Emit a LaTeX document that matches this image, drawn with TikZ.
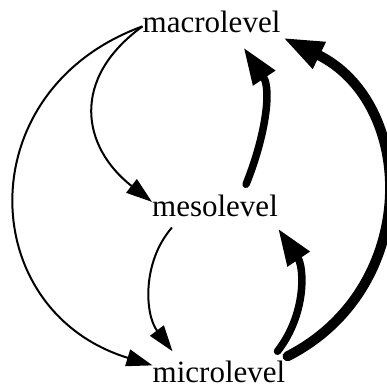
\documentclass[tikz,border=0pt]{standalone}
\usepackage{fontspec}
\setmainfont{Liberation Serif}
\usetikzlibrary{arrows.meta}
\begin{document}
\begin{tikzpicture}[x=1pt, y=1pt, >={Triangle[length=26pt,width=17pt]},
    level/.style={inner sep=0pt, anchor=base, font=\fontsize{31}{36}\selectfont},
    weak/.style={->, line width=2pt},
    strong/.style={line width=7.5pt, line cap=round, -{Triangle[length=37pt,width=25pt]}},
    stronger/.style={line width=10pt, line cap=round, -{Triangle[length=41pt,width=27pt]}}]
\useasboundingbox (0,0) rectangle (387,390);
\node[level] (macro) at (211.5,357) {macrolevel};
\node[level] (meso) at (215,173) {mesolevel};
\node[level] (micro) at (219,7) {microlevel};
% top-down
\draw[weak] ([yshift=-4]macro.west) to[out=216,in=142,looseness=1.3] ([yshift=4.5]meso.west);
\draw[weak] ([yshift=-4]macro.west) to[out=200,in=163,looseness=1.4] ([yshift=7]micro.west);
\draw[weak] ([xshift=20,yshift=-10]meso.south west) to[out=229,in=127,looseness=0.95] ([xshift=20,yshift=10]micro.north west);
% bottom-up
\draw[strong] ([xshift=-32,yshift=11]meso.north east) to[out=68,in=304,looseness=0.95] ([xshift=-37,yshift=-14]macro.south east);
\draw[strong] ([xshift=-8,yshift=10]micro.north east) to[out=52,in=304,looseness=0.98] ([yshift=-11]meso.south east);
\draw[stronger] ([xshift=2,yshift=5]micro.north east) to[out=27,in=334,looseness=1.2] ([xshift=2,yshift=-4]macro.south east);
\end{tikzpicture}
\end{document}
